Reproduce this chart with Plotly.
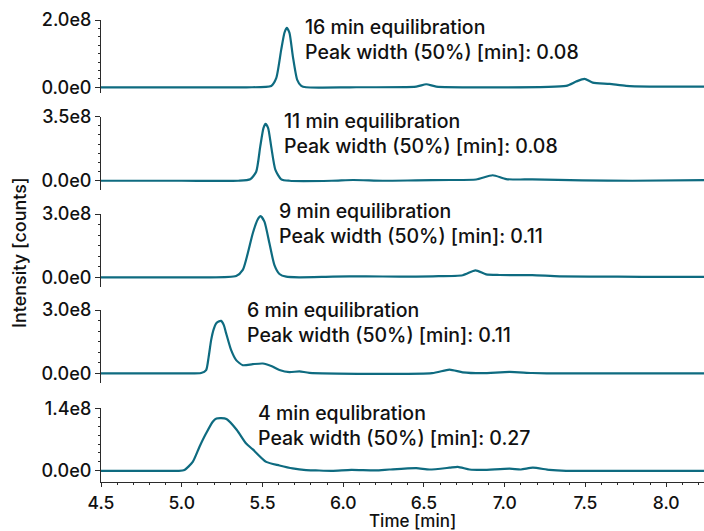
import plotly.graph_objects as go

# ---------------- data ----------------
labels = ["16 min equilibration", "11 min equilibration", "9 min equilibration",
          "6 min equilibration", "4 min equlibration"]
peak_widths = ["0.08", "0.08", "0.11", "0.11", "0.27"]
y_max = [2.0e8, 3.5e8, 3.0e8, 3.0e8, 1.4e8]
y_tick_text = ["2.0e8", "3.5e8", "3.0e8", "3.0e8", "1.4e8"]
y_min = [-0.17e8, -0.48e8, -0.46e8, -0.46e8, -0.25e8]
minor_step = [0.25e8, 0.5e8, 0.5e8, 0.5e8, 0.2e8]

t1 = [4.50, 5.00, 5.40, 5.554, 5.585, 5.616, 5.636, 5.650, 5.667, 5.688, 5.715, 5.740, 5.770,
      6.04, 6.452, 6.514, 6.576, 6.864, 7.38, 7.442, 7.494, 7.545, 7.649, 7.752, 7.896, 8.24]
i1 = [0.0, 0.0, 0.0, 0.04e8, 0.27e8, 1.12e8, 1.62e8, 1.77e8, 1.62e8, 0.92e8, 0.22e8, 0.04e8, 0.0,
      0.0, 0.02e8, 0.09e8, 0.02e8, 0.0, 0.04e8, 0.17e8, 0.25e8, 0.14e8, 0.10e8, 0.04e8, 0.02e8, 0.02e8]

t2 = [4.50, 5.00, 5.35, 5.424, 5.461, 5.486, 5.506, 5.519, 5.535, 5.554, 5.580, 5.616, 5.667,
      5.93, 6.06, 6.245, 6.452, 6.658, 6.823, 6.926, 7.009, 7.17, 7.48, 7.79, 8.24]
i2 = [0.0, 0.0, 0.0, 0.08e8, 0.49e8, 1.86e8, 2.87e8, 3.10e8, 2.87e8, 1.86e8, 0.59e8, 0.08e8, 0.0,
      0.0, 0.04e8, 0.0, 0.02e8, 0.04e8, 0.07e8, 0.30e8, 0.09e8, 0.07e8, 0.02e8, 0.0, 0.04e8]

t3 = [4.50, 5.11, 5.337, 5.378, 5.409, 5.440, 5.471, 5.488, 5.512, 5.543, 5.574, 5.605, 5.647,
      5.729, 5.935, 6.142, 6.348, 6.554, 6.74, 6.819, 6.885, 6.968, 7.17, 7.34, 7.70, 8.00, 8.24]
i3 = [0.0, 0.0, 0.06e8, 0.35e8, 1.14e8, 2.09e8, 2.75e8, 2.90e8, 2.64e8, 1.61e8, 0.58e8, 0.16e8, 0.03e8,
      0.0, 0.03e8, 0.05e8, 0.03e8, 0.05e8, 0.10e8, 0.33e8, 0.14e8, 0.11e8, 0.10e8, 0.05e8, 0.03e8, 0.02e8, 0.02e8]

t4 = [4.50, 5.00, 5.12, 5.151, 5.166, 5.182, 5.197, 5.213, 5.228, 5.244, 5.260, 5.275, 5.306, 5.337,
      5.378, 5.44, 5.502, 5.554, 5.605, 5.667, 5.729, 5.79, 6.55, 6.658, 6.74, 6.862, 7.03, 7.17,
      7.34, 7.80, 8.24]
i4 = [0.0, 0.0, 0.02e8, 0.16e8, 0.75e8, 1.58e8, 2.08e8, 2.37e8, 2.46e8, 2.49e8, 2.30e8, 1.90e8, 1.10e8, 0.63e8,
      0.39e8, 0.44e8, 0.47e8, 0.35e8, 0.16e8, 0.06e8, 0.10e8, 0.03e8, 0.01e8, 0.18e8, 0.05e8, 0.01e8, 0.07e8, 0.02e8,
      0.0, 0.0, 0.0]

t5 = [4.50, 4.80, 4.98, 5.017, 5.068, 5.110, 5.151, 5.192, 5.215, 5.244, 5.277, 5.340, 5.399, 5.440,
      5.523, 5.605, 5.686, 5.770, 5.83, 5.93, 6.05, 6.20, 6.286, 6.452, 6.534, 6.658, 6.709, 6.782,
      6.864, 7.03, 7.10, 7.174, 7.277, 7.38, 7.70, 8.24]
i5 = [0.0, 0.0, 0.0, 0.02e8, 0.20e8, 0.54e8, 0.84e8, 1.10e8, 1.17e8, 1.18e8, 1.16e8, 0.92e8, 0.61e8, 0.48e8,
      0.20e8, 0.12e8, 0.054e8, 0.016e8, 0.01e8, 0.0, 0.02e8, 0.01e8, 0.03e8, 0.06e8, 0.03e8, 0.07e8, 0.09e8, 0.03e8,
      0.02e8, 0.05e8, 0.03e8, 0.07e8, 0.02e8, 0.0, 0.0, 0.0]

times = [t1, t2, t3, t4, t5]
intens = [i1, i2, i3, i4, i5]

x_tick_vals = [4.5, 5.0, 5.5, 6.0, 6.5, 7.0, 7.5, 8.0]
x_tick_text = ["4.5", "5.0", "5.5", "6.0", "6.5", "7.0", "7.5", "8.0"]

# ---------------- layout / style ----------------
LINE = "#0e6b80"
AX = "#2b2b2b"
FONT = "Inter"
TXT = "#111111"
domains = [[0.842, 1.0], [0.633, 0.791], [0.422, 0.580], [0.214, 0.372], [0.0, 0.1595]]
text_x = [5.751, 5.619, 5.592, 5.392, 5.46]
text_y = [0.958, 0.7546, 0.5604, 0.3455, 0.1217]

fig = go.Figure()
for k in range(5):
    ax = "" if k == 0 else str(k + 1)
    fig.add_trace(go.Scatter(
        x=times[k], y=intens[k], mode="lines",
        line=dict(color=LINE, width=2.2, shape="spline", smoothing=0.6),
        xaxis="x", yaxis="y" + ax, showlegend=False, hoverinfo="skip"))
    mn = []
    v = minor_step[k]
    while v < y_max[k] - 1e-3:
        mn.append(v)
        v += minor_step[k]
    fig.layout["yaxis" + ax] = dict(
        domain=domains[k], range=[y_min[k], y_max[k]],
        tickmode="array", tickvals=[0, y_max[k]], ticktext=["0.0e0", y_tick_text[k]],
        ticks="outside", ticklen=5, tickwidth=1, tickcolor=AX,
        showline=True, linecolor=AX, linewidth=1, showgrid=False, zeroline=False,
        minor=dict(tickmode="array", tickvals=mn, ticks="outside", ticklen=2,
                   tickwidth=1, tickcolor=AX, showgrid=False),
        tickfont=dict(family=FONT, size=18, color=TXT, weight=500),
        anchor="x", fixedrange=True)
    fig.add_annotation(
        x=text_x[k], y=text_y[k], xref="x", yref="paper",
        text=labels[k] + "<br>Peak width (50%) [min]: " + peak_widths[k],
        showarrow=False, xanchor="left", yanchor="middle", align="left",
        font=dict(family=FONT, size=19.5, color=TXT, weight=500))

fig.update_layout(
    width=704, height=531,
    margin=dict(l=101, r=0, t=20, b=49),
    paper_bgcolor="white", plot_bgcolor="white",
    xaxis=dict(range=[4.5, 8.234], tickmode="array", tickvals=x_tick_vals, ticktext=x_tick_text,
               ticks="outside", ticklen=4, tickwidth=1, tickcolor=AX,
               showline=True, linecolor=AX, linewidth=1, showgrid=False, zeroline=False,
               minor=dict(dtick=0.1, tick0=4.5, ticks="outside", ticklen=2, tickwidth=1,
                          tickcolor=AX, showgrid=False),
               tickfont=dict(family=FONT, size=17.5, color=TXT, weight=500),
               ticklabelstandoff=1,
               anchor="y5", domain=[0, 1]),
    font=dict(family=FONT, size=18, color=TXT),
)
# axis titles as text placed at their pixel positions (converted to paper coords)
fig.add_annotation(x=(412 - 101) / 603, y=(482 - 520.5) / 462, xref="paper", yref="paper",
                   text="Time [min]", showarrow=False, xanchor="center", yanchor="middle",
                   font=dict(family=FONT, size=17, color=TXT, weight=500))
fig.add_annotation(x=(20 - 101) / 603, y=(482 - 253) / 462, xref="paper", yref="paper",
                   text="Intensity [counts]", showarrow=False, textangle=-90,
                   xanchor="center", yanchor="middle",
                   font=dict(family=FONT, size=18, color=TXT, weight=500))

fig.write_html("out.html")
